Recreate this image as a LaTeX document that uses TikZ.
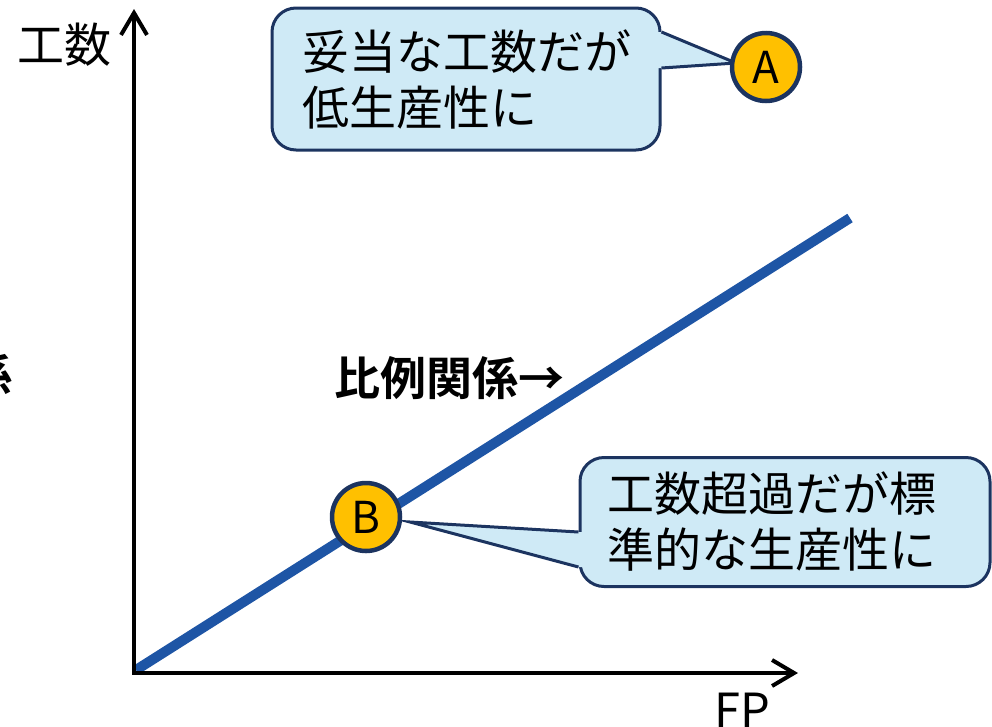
\documentclass[tikz,border=0pt]{standalone}
\usepackage{fontspec}
\setmainfont{Noto Sans CJK JP}[BoldFont={Noto Sans CJK JP Bold}]
\usetikzlibrary{arrows.meta,calc}
\definecolor{calfill}{RGB}{207,234,246}
\definecolor{navy}{RGB}{28,52,96}
\definecolor{gold}{RGB}{255,192,0}
\definecolor{lineblue}{RGB}{30,85,165}
\begin{document}
\begin{tikzpicture}[x=1pt,y=-1pt,
  axis/.style={line width=4pt,{Straight Barb[length=22pt,width=26pt]}-{Straight Barb[length=22pt,width=26pt]}},
  marker/.style={circle,draw=navy,fill=gold,line width=4.5pt,minimum size=68pt,inner sep=0pt,font=\fontsize{44}{44}\selectfont},
  calbox/.style={draw=navy,fill=calfill,line width=3pt,rounded corners=24pt,align=left,font=\fontsize{47}{56}\selectfont},
  ptrline/.style={draw=navy,line width=3pt,line join=miter},
  lbl/.style={font=\fontsize{47}{47}\selectfont,inner sep=0pt},
  boldlbl/.style={font=\fontsize{46}{46}\selectfont\bfseries,inner sep=0pt}]
\useasboundingbox (0,0) rectangle (992,726);
% axes and line
\coordinate (O) at (134,673);
\coordinate (ytip) at (134,9);
\coordinate (xtip) at (798,673);
\coordinate (ls) at (136,670);
\coordinate (le) at (850,218);
\draw[line width=10pt,lineblue] (ls) -- (le);
\draw[axis] (ytip) -- (O) -- (xtip);
% labels
\node[lbl] (ylab) at (64,45) {工数};
\node[lbl] (xlab) at (742,710) {FP};
\node[boldlbl] (rel) at (449,378) {比例関係→};
\node[boldlbl] (cut) at (-10,375) {係};
% callout A
\coordinate (tipA) at (736,63);
\node[calbox,minimum width=388pt,minimum height=142pt,inner xsep=30pt,text width=328pt] (cA) at (466,79) {妥当な工数だが\\低生産性に};
\fill[calfill] ($(cA.east)+(-5,-47)$) -- ($(cA.east)+(0,-47)$) -- (tipA) -- ($(cA.east)+(0,-11)$) -- ($(cA.east)+(-5,-11)$) -- cycle;
\draw[ptrline] ($(cA.east)+(0,-47)$) -- (tipA) -- ($(cA.east)+(0,-11)$);
% callout B
\coordinate (tipB) at (410,522);
\node[calbox,minimum width=410pt,minimum height=129pt,inner xsep=27pt,text width=356pt] (cB) at (785,522) {工数超過だが標\\準的な生産性に};
\fill[calfill] ($(cB.west)+(5,10)$) -- ($(cB.west)+(0,10)$) -- (tipB) -- ($(cB.west)+(0,45)$) -- ($(cB.west)+(5,45)$) -- cycle;
\draw[ptrline] ($(cB.west)+(0,10)$) -- (tipB) -- ($(cB.west)+(0,45)$);
% markers
\node[marker] (A) at (766,67) {A};
\node[marker] (B) at (366,517) {B};
\end{tikzpicture}
\end{document}
